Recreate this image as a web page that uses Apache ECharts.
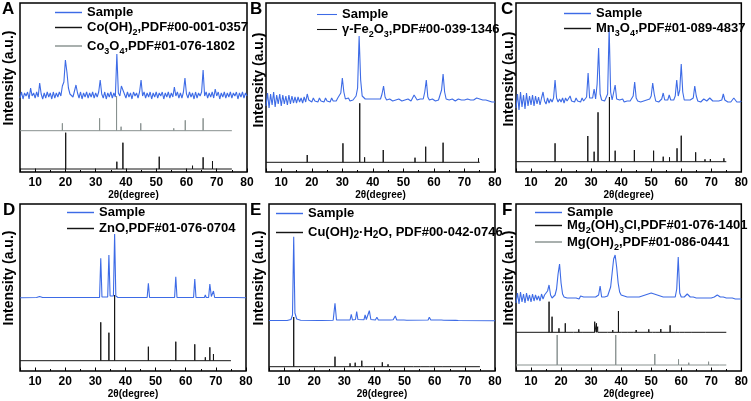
<!DOCTYPE html>
<html><head><meta charset="utf-8">
<script src="https://cdn.jsdelivr.net/npm/echarts@6/dist/echarts.min.js"></script>
<style>html,body{margin:0;padding:0;background:#fff}#c{width:751px;height:401px}</style>
</head><body><div id="c"></div>
<script>
// ---------- tick labels ----------
const xTickLabels = [10, 20, 30, 40, 50, 60, 70, 80];
// ---------- Panel A ----------
const sampleA = [74,80,73,79,76,80,73,84,76,79, 74,80,75,89,78,73,79,74,80,75, 79,73,80,74,79,75,80,76,86,90,
 112,100,84,78,80,75,81,87,79,74, 80,73,79,75,80,74,79,75,80,74, 79,75,80,92,78,74,80,73,79,75,
 80,74,79,75,118,79,76,86,84,78, 74,80,75,79,73,80,76,79,74,80, 92,76,80,74,79,75,80,73,79,75,
 80,74,79,76,80,73,79,75,80,74, 79,75,85,76,80,74,79,74,80,94, 78,74,80,75,79,73,80,74,79,76,
 80,102,76,80,74,79,75,80,74,83, 76,80,73,79,75,80,74,79,75,80, 74,79,76,80,73,79,75,80,74,79,76];
const coOH2Pos = [20.1, 37.0, 39.0, 51.0, 62.0, 65.5, 68.6];
const coOH2Top = [39.3, 10.3, 29.3, 15.3, 6.3, 14.7, 11.0];
const coOH2Base = 3;
const co3o4Pos = [19.0, 31.3, 36.9, 38.4, 44.9, 55.8, 59.6, 65.5];
const co3o4Top = [48.7, 53.7, 76.0, 45.3, 48.7, 43.7, 51.7, 53.7];
const co3o4Base = 41.3;
// ---------- Panel B ----------
const sampleB = [66,79,64,78,67,80,65,77,68,78, 66,77,68,76,67,77,68,76,69,75, 69,75,70,74,69,75,70,78,72,74,
 70,74,71,73,70,74,71,73,70,74, 71,73,70,74,71,73,71,74,72,79, 94,80,73,72,74,71,73,72,74,76,
 84,136,92,76,75,73,72,73,71,73, 72,73,71,73,72,73,78,86,75,72, 71,73,72,71,73,72,71,73,72,71,
 73,72,71,73,72,71,73,77,76,72, 71,73,72,73,80,92,75,72,71,73, 72,71,73,72,74,82,98,80,73,71,
 72,71,73,72,71,72,73,71,72,71, 72,71,73,75,72,71,72,72,74,76, 73,71,72,71,72,70,71,72,70,71,70];
const fe2o3Pos = [18.5, 30.2, 35.7, 37.3, 43.4, 53.8, 57.3, 63.0, 71.5, 74.6];
const fe2o3Top = [17.0, 28.7, 68.7, 14.7, 22.0, 14.3, 25.3, 29.3, 11.3, 13.7];
const fe2o3Base = 9.7;
// ---------- Panel C ----------
const sampleC = [64,78,62,80,65,77,63,79,66,76, 67,77,66,76,68,75,67,74,80,71, 68,74,69,73,70,74,92,74,70,73,
 70,74,69,74,71,73,76,71,73,70, 74,71,73,70,74,71,73,75,99,74, 72,74,83,73,88,124,78,72,73,71,
 73,78,144,80,72,74,87,73,71,72, 71,73,70,72,71,72,71,73,76,90, 74,71,72,70,72,71,70,72,71,73,
 76,89,78,71,72,70,72,73,79,72, 71,72,77,72,71,72,76,92,76,82, 108,80,72,71,72,70,72,71,74,86,
 76,71,72,70,71,73,74,71,72,74, 72,71,70,71,70,71,70,72,78,72, 71,70,71,70,72,74,73,70,71,70,71];
const mn3o4Pos = [18.0, 28.9, 31.0, 32.3, 36.1, 38.0, 44.4, 50.8, 54.0, 56.1, 58.6, 60.0, 64.8, 67.9, 69.7, 74.2];
const mn3o4Top = [28.7, 36.0, 20.3, 59.7, 75.0, 21.3, 22.0, 21.3, 15.3, 14.7, 23.7, 36.3, 19.7, 12.7, 13.0, 13.7];
const mn3o4Base = 10.3;
// ---------- Panel D ----------
const sampleD = [[5,73.3],[10.5,73.5],[11.5,74.5],[12.5,73.5],[28,73.5],[28.5,74.5],[29,73.5],[31.4,73.6],[31.8,112.7],[32.2,74],
 [34.1,74],[34.5,116],[34.9,75],[36.0,75],[36.4,137],[36.8,75],[37.5,73.5],[47.2,73.5],[47.6,87.7],[48,73.5],
 [56.3,73.5],[56.7,94.3],[57.1,73.5],[62.6,73.5],[63.0,92],[63.4,73.5],[66.2,73.5],[66.5,76],[66.8,73.5],[67.6,73.6],
 [68.0,87],[68.5,74.5],[69.2,80],[69.6,73.5],[72.4,73.5],[72.7,74.5],[73.0,73.5],[76.7,73.5],[77,75],[77.3,73.5],[80,73.3]];
const znoPos = [31.8, 34.5, 36.4, 47.6, 56.7, 63.0, 66.5, 68.0, 69.2, 72.7];
const znoTop = [48.7, 38.3, 76.0, 24.3, 29.3, 26.7, 13.7, 23.7, 17.0, 12.0];
const znoBase = 10.3;
// ---------- Panel E ----------
const sampleE = [[5,50.5],[11,50.5],[12.3,51.5],[12.8,56],[13.2,134.3],[13.6,58],[14.2,52],[15.5,50.8],[21.5,50.5],[22,51.2],
 [22.5,50.5],[26.3,50.8],[26.9,67.7],[27.4,51],[31.9,51],[32.3,56.7],[32.7,51],[33.7,51.5],[34.1,59.3],[34.5,51.5],
 [36.5,51.2],[36.9,56],[37.3,51.5],[37.9,52],[38.3,60.3],[38.8,51.5],[40.3,51],[40.8,53.7],[41.3,51],[45.3,51],
 [45.7,52.7],[46.2,51.2],[46.9,55],[47.4,51],[49.8,51],[50.2,51.7],[50.7,50.8],[57.8,51],[58.2,53.7],[58.7,51],
 [59.9,51],[60.3,52.7],[60.7,51],[62.2,51],[62.6,51.8],[63,50.8],[67,50.6],[67.4,51.2],[67.8,50.5],[80,50.3]];
const cuPos = [13.2, 21.5, 26.9, 31.9, 33.6, 35.8, 36.6, 42.6, 44.5, 52.9, 55.4, 58.2, 60.4, 62.7];
const cuTop = [54.0, 5.5, 14.3, 7.7, 8.3, 10.3, 5.5, 8.7, 6.7, 6.0, 5.3, 6.0, 5.3, 5.5];
const cuBase = 4.3;
// ---------- Panel F ----------
const sampleF = [68,78,67,79,69,77,68,78,70,76, 69,77,70,76,71,75,70,77,72,76, 75,80,86,76,73,75,76,82,97,107,
 88,77,74,75,73,75,73,74,73,75, 73,74,72,75,73,74,73,74,72,74, 73,74,73,74,73,76,85,74,73,74,
 74,75,77,84,98,112,116,104,88,79, 76,74,75,73,74,73,74,73,74,73, 74,73,74,74,75,75,76,76,77,78,
 78,78,77,77,76,75,75,74,74,73, 74,73,74,73,74,73,74,82,114,78, 74,73,74,76,77,76,74,73,74,73,
 73,74,73,74,73,74,73,74,73,74, 73,74,74,75,76,75,74,73,74,73, 73,72,73,72,73,72,72,73,72,72,72];
const mgClPos = [16.0, 17.0, 19.3, 21.4, 24.1, 25.9, 27.0, 31.2, 31.8, 32.2, 35.5, 37.2, 39.1, 40.2, 42.0, 44.0, 45.0, 49.2, 50.4, 51.3, 53.2, 56.3, 58.2, 59.5, 61.2, 63.3, 68.0];
const mgClTop = [69.3, 54.3, 42.7, 47.7, 40.3, 41.7, 40.3, 49.3, 47.7, 44.3, 40.3, 41.0, 60.0, 40.7, 40.3, 40.0, 41.0, 41.7, 40.7, 40.0, 42.0, 45.7, 40.0, 40.0, 39.7, 39.5, 39.7];
const mgClBase = 38.7;
const mgOHPos = [18.7, 32.8, 38.2, 51.2, 59.1, 62.5, 69.1, 72.7];
const mgOHTop = [36.0, 6.7, 36.0, 17.0, 11.7, 8.3, 9.3, 7.7];
const mgOHBase = 6.0;

// ---------- helpers ----------
const FF = '"Liberation Sans", Arial, sans-serif';
const BLUE = '#3d6be6', BLACK = '#151515', GRAY = '#88918f';
function stepped(ys) { return ys.map((y, i) => [5 + 0.5 * i, y]); }
function sticks(pos, tops, base) {
  const d = [[5, base]];
  pos.forEach((p, i) => { d.push([p, base], [p, tops[i]], [p, base]); });
  d.push([75, base]);
  return d;
}
const grids = [
  {left: 20, top: 3, width: 227, height: 169, ymax: 169},
  {left: 266, top: 3, width: 229, height: 169, ymax: 169},
  {left: 516, top: 3, width: 227, height: 169, ymax: 169},
  {left: 20, top: 204, width: 226, height: 167, ymax: 167},
  {left: 269, top: 204, width: 226, height: 167, ymax: 167},
  {left: 516, top: 204, width: 226, height: 167, ymax: 167}
];
const panelSeries = [
  [['Sample', BLUE, stepped(sampleA)], ['Co(OH)2,PDF#00-001-0357', BLACK, sticks(coOH2Pos, coOH2Top, coOH2Base)], ['Co3O4,PDF#01-076-1802', GRAY, sticks(co3o4Pos, co3o4Top, co3o4Base)]],
  [['Sample ', BLUE, stepped(sampleB)], ['γ-Fe2O3,PDF#00-039-1346', BLACK, sticks(fe2o3Pos, fe2o3Top, fe2o3Base)]],
  [['Sample  ', BLUE, stepped(sampleC)], ['Mn3O4,PDF#01-089-4837', BLACK, sticks(mn3o4Pos, mn3o4Top, mn3o4Base)]],
  [['Sample   ', BLUE, sampleD], ['ZnO,PDF#01-076-0704', BLACK, sticks(znoPos, znoTop, znoBase)]],
  [['Sample    ', BLUE, sampleE], ['Cu(OH)2·H2O, PDF#00-042-0746', BLACK, sticks(cuPos, cuTop, cuBase)]],
  [['Sample     ', BLUE, stepped(sampleF)], ['Mg2(OH)3Cl,PDF#01-076-1401', BLACK, sticks(mgClPos, mgClTop, mgClBase)], ['Mg(OH)2,PDF#01-086-0441', GRAY, sticks(mgOHPos, mgOHTop, mgOHBase)]]
];
const richNames = {
  'Co(OH)2,PDF#00-001-0357': 'Co(OH){s|2},PDF#00-001-0357',
  'Co3O4,PDF#01-076-1802': 'Co{s|3}O{s|4},PDF#01-076-1802',
  'γ-Fe2O3,PDF#00-039-1346': 'γ-Fe{s|2}O{s|3},PDF#00-039-1346',
  'Mn3O4,PDF#01-089-4837': 'Mn{s|3}O{s|4},PDF#01-089-4837',
  'Cu(OH)2·H2O, PDF#00-042-0746': 'Cu(OH){t|2}·H{t|2}O, PDF#00-042-0746',
  'Mg2(OH)3Cl,PDF#01-076-1401': 'Mg{s|2}(OH){s|3}Cl,PDF#01-076-1401',
  'Mg(OH)2,PDF#01-086-0441': 'Mg(OH){s|2},PDF#01-086-0441'
};
const legendPos = [
  {left: 55, top: 6, itemWidth: 27, itemGap: 2},
  {left: 317, top: 8, itemWidth: 20, itemGap: 2},
  {left: 564, top: 7, itemWidth: 27, itemGap: 2},
  {left: 67, top: 206, itemWidth: 27, itemGap: 3},
  {left: 276, top: 207, itemWidth: 27, itemGap: 6},
  {left: 535, top: 206, itemWidth: 27, itemGap: 0}
];
const letters = ['A', 'B', 'C', 'D', 'E', 'F'];
const letterPos = [[2, 1], [250, 1], [501, 1], [3, 202], [250, 202], [502, 202]];
const yNamePos = [[9, 78], [259, 80], [509, 79], [9, 278], [259, 278], [509, 278]];

const option = {
  animation: false,
  backgroundColor: '#fff',
  grid: grids.map(g => ({left: g.left, top: g.top, width: g.width, height: g.height, show: true, borderColor: '#000', borderWidth: 1.5, backgroundColor: 'transparent'})),
  xAxis: grids.map((g, i) => ({
    gridIndex: i, type: 'value', min: 5, max: 80, splitNumber: 8,
    name: '2θ(degree)', nameLocation: 'middle', nameGap: 16,
    nameTextStyle: {color: '#000', fontWeight: 'bold', fontSize: 10, fontFamily: FF},
    axisLine: {show: false},
    axisTick: {show: true, inside: true, length: 3.5, lineStyle: {color: '#000', width: 1}},
    minorTick: {show: true, splitNumber: 2, length: 2, lineStyle: {color: '#000', width: 1}},
    axisLabel: {margin: 5, color: '#000', fontWeight: 'bold', fontSize: 12, fontFamily: FF, customValues: xTickLabels},
    splitLine: {show: false}
  })),
  yAxis: grids.map((g, i) => ({gridIndex: i, type: 'value', min: 0, max: g.ymax, show: false})),
  legend: legendPos.map((p, i) => ({
    orient: 'vertical', left: p.left, top: p.top, itemWidth: p.itemWidth, itemHeight: 14, itemGap: p.itemGap,
    padding: 0, icon: 'path://M0,6 L30,6 L30,7.6 L0,7.6 Z',
    data: panelSeries[i].map(s => s[0]),
    formatter: n => richNames[n] || n.trim(),
    textStyle: {color: '#000', fontSize: 13, fontWeight: 'bold', fontFamily: FF, padding: [0, 0, 0, 0],
      rich: {
        s: {fontSize: 9, fontWeight: 'bold', fontFamily: FF, color: '#000', verticalAlign: 'bottom', lineHeight: 20},
        t: {fontSize: 10, fontWeight: 'bold', fontFamily: FF, color: '#000', verticalAlign: 'bottom', lineHeight: 16}
      }}
  })),
  graphic: [
    ...letters.map((l, i) => ({type: 'text', left: letterPos[i][0], top: letterPos[i][1], style: {text: l, fill: '#000', font: 'bold 17px ' + FF}})),
    ...yNamePos.map(p => ({type: 'text', x: p[0], y: p[1], rotation: Math.PI / 2, style: {text: 'Intensity (a.u.)', fill: '#000', font: 'bold 14px ' + FF, align: 'center', verticalAlign: 'middle'}}))
  ],
  series: panelSeries.flatMap((ps, i) => ps.map(s => ({
    name: s[0], type: 'line', xAxisIndex: i, yAxisIndex: i, data: s[2], symbol: 'none', silent: true,
    itemStyle: {color: s[1]}, lineStyle: {color: s[1], width: s[1] === BLUE ? 1.1 : 1}, z: s[1] === BLUE ? 3 : 2
  })))
};
const chart = echarts.init(document.getElementById('c'), null, {renderer: 'canvas'});
chart.setOption(option);
</script></body></html>
